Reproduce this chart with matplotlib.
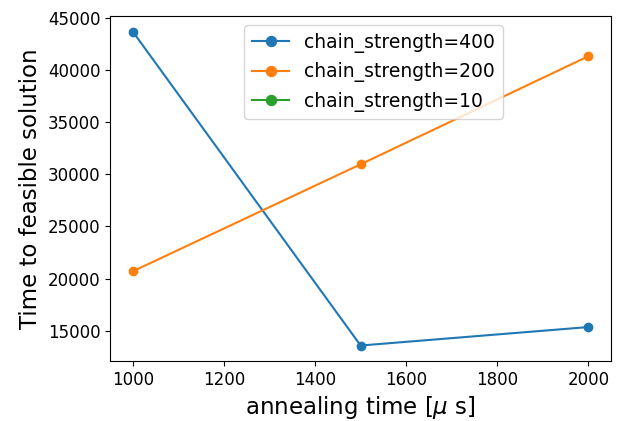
import numpy as np
import matplotlib
matplotlib.use("Agg")
import matplotlib.pyplot as plt

annealing_times = [1000, 1500, 2000]
tts_400 = [43650, 13590, 15360]
tts_200 = [20700, 30950, 41300]
tts_10 = [np.nan, np.nan, np.nan]

fig, ax = plt.subplots(figsize=(6.4, 4.21), dpi=100)
ax.plot(annealing_times, tts_400, "o-", label="chain_strength=400")
ax.plot(annealing_times, tts_200, "o-", label="chain_strength=200")
ax.plot(annealing_times, tts_10, "o-", label="chain_strength=10")
ax.set_xticks([1000, 1200, 1400, 1600, 1800, 2000])
ax.tick_params(labelsize=12)
ax.set_xlabel(r"annealing time [$\mu$ s]", fontsize=16.5)
ax.set_ylabel("Time to feasible solution", fontsize=16.5)
ax.legend(loc="upper center", bbox_to_anchor=(0.526, 1.0), fontsize=13.5,
          markerscale=1.2)
fig.subplots_adjust(left=0.172, right=0.955, top=0.962, bottom=0.142)
fig.savefig("out.png")
